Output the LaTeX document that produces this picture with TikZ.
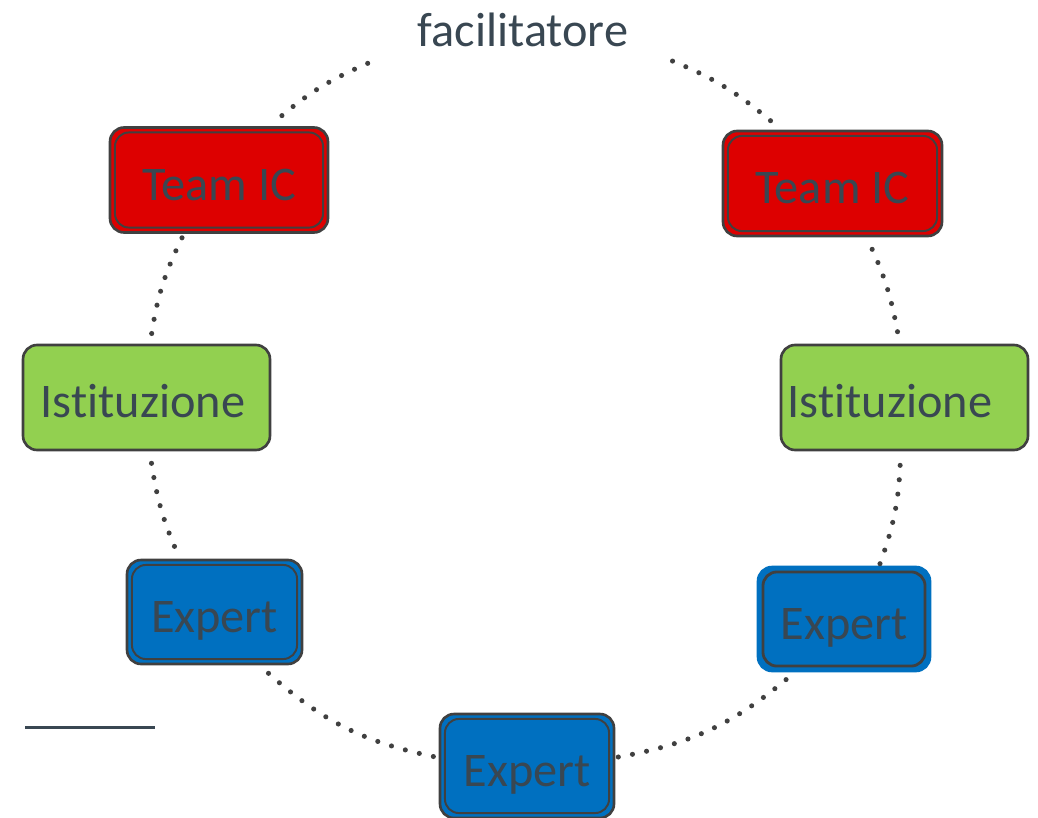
\documentclass[tikz,border=0pt]{standalone}
\usepackage{fontspec}
\setmainfont{Carlito}[Ligatures=CommonOff]
\usepackage{tikz}
\usetikzlibrary{positioning}
\definecolor{teamred}{RGB}{221,0,0}
\definecolor{instgreen}{RGB}{146,208,80}
\definecolor{expblue}{RGB}{0,112,192}
\definecolor{edgegray}{RGB}{64,64,64}
\definecolor{slate}{RGB}{57,71,82}

\begin{document}
\begin{tikzpicture}[x=0.02cm, y=-0.02cm,
    box/.style={draw=edgegray, line width=1.5pt, rounded corners=8pt, inner sep=0pt,
        text=slate, font=\fontsize{27.5}{31}\selectfont, text height=23pt, text depth=0pt,
        minimum height=2.1cm},
    inner/.style={path picture={
        \draw[edgegray, line width=#1]
            ([shift={(2.8pt,-2.8pt)}]path picture bounding box.north west) rectangle
            ([shift={(-2.8pt,2.8pt)}]path picture bounding box.south east);}},
    inner/.default=1.1pt,
    link/.style={edgegray, line width=2.9pt, line cap=round, dash pattern=on 0pt off 8.2pt}]

    \useasboundingbox (0,0) rectangle (1038,818);

    % Title
    \node[text=slate, font=\fontsize{27.5}{31}\selectfont, inner sep=0pt,
          minimum width=6cm, minimum height=1.12cm] (fac) at (523,30) {facilitatore};

    % Team IC
    \node[box, fill=teamred, inner, minimum width=4.36cm] (tl) at (219,180) {Team IC};
    \node[box, fill=teamred, inner, minimum width=4.38cm] (tr) at (832.5,183.5) {Team IC};

    % Istituzione
    \node[box, fill=instgreen, minimum width=4.94cm] (il) at (146.5,397.5) {Istituzione\kern0.14cm};
    \node[box, fill=instgreen, minimum width=4.94cm] (ir) at (904.5,397.5) {Istituzione\kern0.58cm};

    % Expert
    \node[box, fill=expblue, inner, minimum width=3.5cm, minimum height=2.08cm] (el) at (214.5,612) {Expert};
    \node[box, fill=expblue, draw=expblue, inner=1.6pt, minimum width=3.44cm, minimum height=2.08cm] (er) at (844,619) {Expert};
    \node[box, fill=expblue, inner, minimum width=3.48cm, minimum height=2.08cm] (eb) at (527,766) {Expert};

    % Circle of dots
    \draw[link] ([shift={(-5,5)}]fac.south west) to[bend right=9] ([shift={(53,-2)}]tl.north);
    \draw[link] ([shift={(-37,4)}]tl.south) to[bend right=9] ([shift={(4,-2)}]il.north);
    \draw[link] ([shift={(5,12)}]il.south) to[bend right=7.5] ([shift={(-36,-3)}]el.north);
    \draw[link] ([shift={(54,8)}]el.south) to[bend right=15] ([shift={(-3,-9)}]eb.west);
    \draw[link] ([shift={(3,-9)}]eb.east) to[bend right=15] ([shift={(-54,4)}]er.south);
    \draw[link] ([shift={(36,-2)}]er.north) to[bend right=9] ([shift={(-4,5)}]ir.south);
    \draw[link] ([shift={(-7,-12)}]ir.north) to[bend right=7.5] ([shift={(35,2)}]tr.south);
    \draw[link] ([shift={(-62,-9)}]tr.north) to[bend right=9] ([shift={(-5,1)}]fac.south east);

    % Rule
    \draw[slate, line width=1.7pt] (25,727) -- (155,727);
\end{tikzpicture}
\end{document}
